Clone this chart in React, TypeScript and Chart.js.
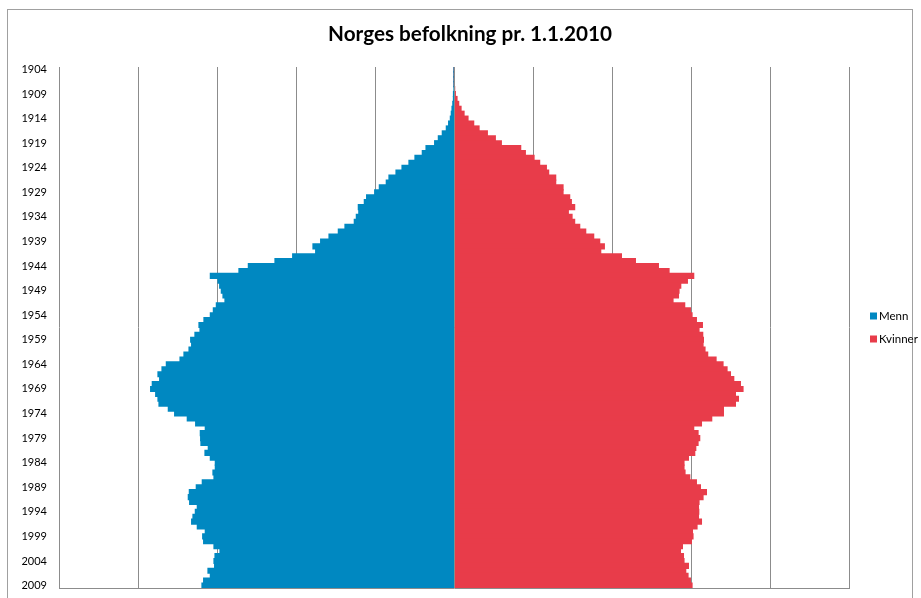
import React, { useEffect, useRef } from "react";
import { Chart, registerables } from "chart.js";

Chart.register(...registerables);

const chartTitle = "Norges befolkning pr. 1.1.2010";
const seriesNames = ["Menn", "Kvinner"];
const seriesColors = ["#0088C1", "#E83C4A"];

const years = [
  1904, 1905, 1906, 1907, 1908, 1909, 1910, 1911, 1912, 1913,
  1914, 1915, 1916, 1917, 1918, 1919, 1920, 1921, 1922, 1923,
  1924, 1925, 1926, 1927, 1928, 1929, 1930, 1931, 1932, 1933,
  1934, 1935, 1936, 1937, 1938, 1939, 1940, 1941, 1942, 1943,
  1944, 1945, 1946, 1947, 1948, 1949, 1950, 1951, 1952, 1953,
  1954, 1955, 1956, 1957, 1958, 1959, 1960, 1961, 1962, 1963,
  1964, 1965, 1966, 1967, 1968, 1969, 1970, 1971, 1972, 1973,
  1974, 1975, 1976, 1977, 1978, 1979, 1980, 1981, 1982, 1983,
  1984, 1985, 1986, 1987, 1988, 1989, 1990, 1991, 1992, 1993,
  1994, 1995, 1996, 1997, 1998, 1999, 2000, 2001, 2002, 2003,
  2004, 2005, 2006, 2007, 2008, 2009,
];

// Men per birth year (drawn to the left)
const menn = [
  0, 0, 0, 0, 0, 30, 70, 150, 250, 340,
  460, 680, 970, 1480, 1980, 2450, 3540, 4010, 4940, 5700,
  6580, 7340, 8230, 8570, 9450, 10040, 11060, 11350, 12110, 12050,
  12360, 12620, 13800, 14640, 15820, 16880, 17850, 17510, 20420, 22660,
  26030, 27220, 30840, 29870, 29660, 29450, 29240, 28990, 30080, 30460,
  30840, 31650, 32280, 32150, 32790, 33330, 33210, 33540, 34180, 34680,
  36410, 36960, 37470, 37260, 38190, 38400, 37760, 37470, 37340, 36160,
  35360, 33760, 32700, 31480, 32110, 32070, 32030, 31100, 31520, 30840,
  30210, 30210, 30510, 30380, 31860, 32620, 33500, 33630, 33460, 32490,
  32740, 33040, 33210, 32490, 31480, 31810, 31690, 30380, 29620, 30250,
  30380, 30300, 31140, 30840, 31690, 31900,
];

// Women per birth year (drawn to the right)
const kvinner = [
  0, 0, 0, 0, 80, 170, 380, 590, 890, 1270,
  1770, 2490, 3170, 4220, 5230, 5990, 8440, 9030, 10130, 10840,
  11690, 11980, 12870, 12870, 13800, 13800, 14640, 14850, 15270, 14470,
  14940, 15270, 15910, 16670, 17680, 18440, 19030, 18570, 21190, 22960,
  25870, 27220, 30340, 29540, 28700, 28480, 28410, 27720, 29200, 29920,
  30130, 30680, 31440, 31010, 31480, 31570, 31520, 31770, 32110, 33170,
  34050, 34560, 34990, 35410, 36250, 36580, 35620, 36000, 35620, 34100,
  34100, 32620, 31320, 30340, 30890, 31100, 30890, 30600, 30470, 29670,
  29110, 29110, 29240, 29840, 30680, 31190, 31950, 31520, 31010, 30940,
  30980, 30940, 31320, 30760, 30180, 30250, 30050, 28910, 28660, 29040,
  29110, 29670, 29330, 29620, 29920, 30130,
];

const xMin = -50000;
const xMax = 50000;
const xStep = 10000;
const labelEvery = 5;

const decor = {
  id: "decor",
  afterDatasetsDraw(chart: any) {
    const { ctx, chartArea, scales } = chart;
    const x0 = Math.round(scales.x.getPixelForValue(0)) + 0.5;
    ctx.save();
    ctx.strokeStyle = "#8c8c8c";
    ctx.lineWidth = 1;
    ctx.beginPath();
    ctx.moveTo(x0, chartArea.top);
    ctx.lineTo(x0, chartArea.bottom);
    ctx.stroke();
    ctx.restore();
  },
  afterDraw(chart: any) {
    const { ctx } = chart;
    ctx.save();
    // frame
    ctx.strokeStyle = "#a0a0a0";
    ctx.lineWidth = 1;
    ctx.strokeRect(7.5, 9.5, 905, 600);
    // title
    ctx.fillStyle = "#000";
    ctx.font = "bold 20.7px Lato";
    ctx.textAlign = "center";
    ctx.textBaseline = "middle";
    ctx.fillText(chartTitle, 470, 34);
    // legend
    ctx.font = "11.5px Lato";
    ctx.textAlign = "left";
    chart.data.datasets.forEach((ds: any, i: number) => {
      const y = 316 + i * 23;
      ctx.fillStyle = ds.backgroundColor;
      ctx.fillRect(870, y - 3.5, 7, 7);
      ctx.fillStyle = "#000";
      ctx.fillText(ds.label, 879, y + 0.5);
    });
    ctx.restore();
  },
};

export default function App() {
  const ref = useRef<HTMLCanvasElement>(null);
  useEffect(() => {
    document.body.style.margin = "0";
    const canvas = ref.current!;
    Chart.defaults.font.family = "Lato";
    const chart = new Chart(canvas, {
      type: "bar",
      data: {
        labels: years.map(String),
        datasets: [
          {
            label: seriesNames[0],
            data: menn.map((v) => -v),
            backgroundColor: seriesColors[0],
            borderWidth: 0,
            inflateAmount: 0.6,
            barPercentage: 1,
            categoryPercentage: 1,
          },
          {
            label: seriesNames[1],
            data: kvinner,
            backgroundColor: seriesColors[1],
            borderWidth: 0,
            inflateAmount: 0.6,
            barPercentage: 1,
            categoryPercentage: 1,
          },
        ],
      },
      options: {
        responsive: false,
        animation: false,
        indexAxis: "y",
        layout: { padding: { top: 67, right: 72, bottom: 10, left: 0 } },
        plugins: {
          legend: { display: false },
          title: { display: false },
          tooltip: { enabled: false },
        },
        scales: {
          x: {
            stacked: true,
            min: xMin,
            max: xMax,
            ticks: { display: false, stepSize: xStep },
            grid: { color: "#8c8c8c", drawTicks: false },
            border: { display: true, color: "#8c8c8c" },
            afterFit: (s: any) => {
              s.height = 0;
            },
          },
          y: {
            stacked: true,
            grid: { display: false, drawTicks: false },
            border: { display: false },
            ticks: {
              autoSkip: false,
              padding: 12,
              color: "#000",
              font: { family: "Lato", size: 11 },
              callback: (_v: any, i: number) => (i % labelEvery === 0 ? String(years[i]) : ""),
            },
            afterFit: (s: any) => {
              s.width = 59;
              s.paddingTop = 0;
              s.paddingBottom = 0;
            },
          },
        },
      } as any,
      plugins: [decor],
    });
    return () => chart.destroy();
  }, []);
  return (
    <div style={{ width: 921, height: 598 }}>
      <canvas ref={ref} width={921} height={598} style={{ display: "block" }} />
    </div>
  );
}
